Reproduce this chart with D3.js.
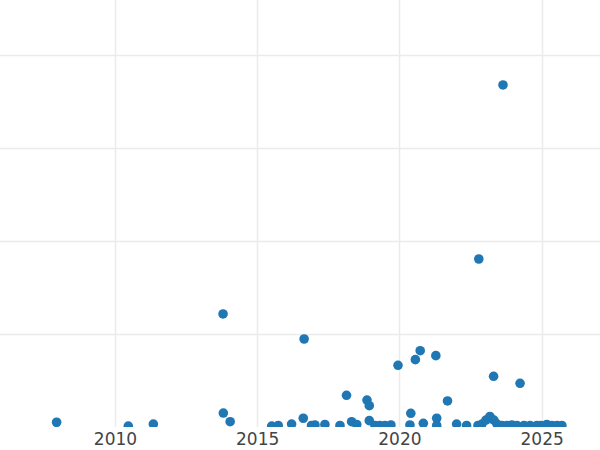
<!DOCTYPE html>
<html>
<head>
<meta charset="utf-8">
<script src="https://cdn.jsdelivr.net/npm/d3@7"></script>
<style>
  html, body { margin: 0; padding: 0; background: #fff; }
  svg { display: block; }
</style>
</head>
<body>
<svg id="vis" width="600" height="450"></svg>
<script>
// decimal year of each point
const years = [
  2007.95, 2010.47, 2011.35, 2013.81, 2013.80, 2014.05, 2015.51, 2015.74, 2016.21, 2016.62,
  2016.65, 2016.91, 2017.03, 2017.38, 2017.91, 2018.14, 2018.32, 2018.50, 2018.86, 2018.94,
  2018.94, 2019.14, 2019.31, 2019.49, 2019.70, 2019.95, 2020.37, 2020.40, 2020.56, 2020.73,
  2020.84, 2021.28, 2021.31, 2021.31, 2021.69, 2022.01, 2022.36, 2022.79, 2022.76, 2022.90,
  2023.04, 2023.18, 2023.32, 2023.31, 2023.43, 2023.64, 2023.60, 2023.78, 2023.95, 2024.13,
  2024.24, 2024.38, 2024.59, 2024.83, 2024.97, 2025.18, 2025.36, 2025.54, 2025.71
];
// value of each point (y units, gridline every 100)
const values = [
  5.1, 1, 3.2, 15, 121.5, 5.7, 1, 1.6, 3.2, 9.4,
  94.6, 1.6, 2.2, 2.7, 1.6, 34.1, 5.7, 2.7, 29, 22.9,
  6.8, 1.6, 1.6, 1.6, 2.2, 66.3, 2.2, 14.7, 72.4, 82,
  4, 76.7, 9.4, 1.6, 28, 3.2, 1.6, 180.6, 1.6, 3.2,
  7.5, 11.3, 7.5, 54.5, 3.2, 367.7, 1.6, 1.6, 2.2, 1.6,
  47, 1.6, 1.6, 1.6, 1.6, 2.7, 1.6, 1.6, 1.6
];
const xTicks = [2010, 2015, 2020, 2025];
const yTicks = [100, 200, 300, 400];

const points = years.map((d, i) => ({ year: d, value: values[i] }));

const vis = d3.select('#vis');
const plotW = 600, plotH = 427;

const x = d3.scaleLinear().domain([2005.96, 2027.05]).range([0, plotW]);
const y = d3.scaleLinear().domain([0, 459]).range([plotH, 0]);

vis.append('defs').append('clipPath').attr('id', 'plotClip')
  .append('rect').attr('x', 0).attr('y', 0).attr('width', plotW).attr('height', plotH);

// grid
const grid = vis.append('g').attr('class', 'grid');
grid.selectAll('line.v').data(xTicks).enter().append('line')
  .attr('class', 'v')
  .attr('x1', d => Math.round(x(d)) + 0.5).attr('x2', d => Math.round(x(d)) + 0.5)
  .attr('y1', 0).attr('y2', plotH)
  .attr('stroke', '#ebebeb').attr('stroke-width', 1.5);
grid.selectAll('line.h').data(yTicks).enter().append('line')
  .attr('class', 'h')
  .attr('x1', 0).attr('x2', plotW)
  .attr('y1', d => Math.round(y(d)) + 0.5).attr('y2', d => Math.round(y(d)) + 0.5)
  .attr('stroke', '#ebebeb').attr('stroke-width', 1.5);

// x axis labels
const xAxis = d3.axisBottom(x).tickValues(xTicks).tickFormat(d3.format('d')).tickSize(0).tickPadding(6);
const xg = vis.append('g').attr('transform', `translate(0,${plotH})`).call(xAxis);
xg.select('.domain').remove();
xg.selectAll('text')
  .attr('fill', '#444')
  .style('font-family', '"DejaVu Sans", Verdana, sans-serif')
  .style('font-size', '17px');

// points
vis.append('g').attr('clip-path', 'url(#plotClip)')
  .selectAll('circle').data(points).enter().append('circle')
  .attr('cx', d => x(d.year))
  .attr('cy', d => y(d.value))
  .attr('r', 4.8)
  .attr('fill', '#1f77b4');
</script>
</body>
</html>
